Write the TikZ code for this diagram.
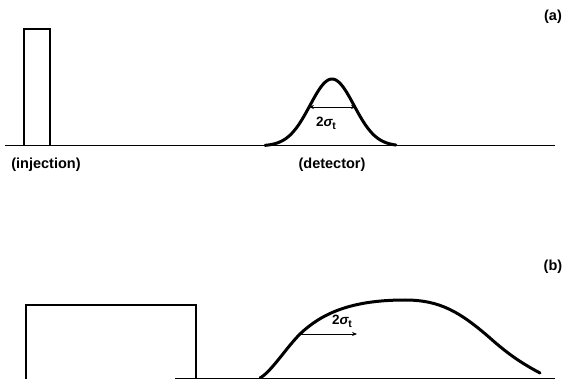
\documentclass[tikz,border=0pt]{standalone}
\usepackage{fontspec}
\setmainfont{Liberation Sans}
\usetikzlibrary{arrows.meta}
\tikzset{
  lbl/.style={font=\bfseries\fontsize{14.5}{16}\selectfont, inner sep=0pt},
  sig/.style={font=\bfseries\fontsize{13.5}{15}\selectfont, inner sep=0pt},
  baseln/.style={line width=1pt},
  pulse/.style={line width=1.5pt},
  peak/.style={line width=3pt, line cap=round},
  width/.style={line width=0.8pt, -{Stealth[length=5pt,width=4pt]}},
  bothw/.style={line width=0.8pt, {Stealth[length=5pt,width=4pt]}-{Stealth[length=5pt,width=4pt]}}
}
\newcommand{\sigt}{2{\itshape σ}\raisebox{-0.45ex}{\fontsize{10.5}{11}\selectfont t}}
\begin{document}
\begin{tikzpicture}[x=1pt,y=-1pt]
\useasboundingbox (0,0) rectangle (565,379);
% panel (a)
\coordinate (a0) at (5,146);
\coordinate (a1) at (555,146);
\draw[baseln] (a0) -- (a1);
\draw[pulse] (24,146) -- (24,29) -- (50,29) -- (50,146);
\draw[peak] plot[domain=-67:64,samples=80,smooth] ({332+\x},{146-67*exp(-((\x/22)^2)/2)});
\coordinate (la) at (309,107);
\coordinate (ra) at (356,107);
\draw[bothw] (la) -- (ra);
\node[sig] (sa) at (326,123) {\sigt};
\node[lbl] (inj) at (46,165) {(injection)};
\node[lbl] (det) at (332,165) {(detector)};
\node[lbl] (pa) at (553,17) {(a)};
% panel (b)
\coordinate (b0) at (175,378);
\coordinate (b1) at (555,378);
\draw[baseln] (b0) -- (b1);
\draw[pulse] (26,381) -- (26,305) -- (196,305) -- (196,381);
\draw[peak] (260,378) .. controls (271,372) and (286,348) .. (300,334)
  .. controls (322,313) and (352,300) .. (405,300)
  .. controls (440,300) and (460,312) .. (490,338)
  .. controls (510,356) and (525,365) .. (540,373);
\coordinate (lb) at (300,334);
\coordinate (rb) at (357,334);
\draw[width] (lb) -- (rb);
\node[sig] (sb) at (342,321) {\sigt};
\node[lbl] (pb) at (553,267) {(b)};
\end{tikzpicture}
\end{document}
